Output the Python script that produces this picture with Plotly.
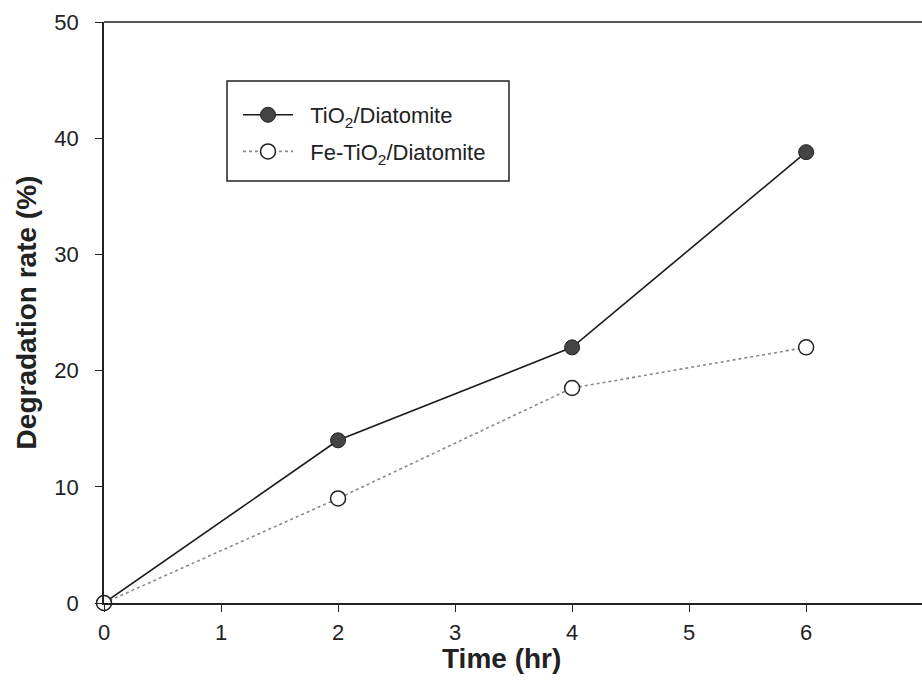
import plotly.graph_objects as go

time_hr = [0, 2, 4, 6]
tio2_diatomite = [0, 14, 22, 38.8]
fe_tio2_diatomite = [0, 9, 18.5, 22]
x_ticks = [0, 1, 2, 3, 4, 5, 6, 7]
y_ticks = [0, 10, 20, 30, 40, 50]

FONT = "Liberation Sans, Arial, sans-serif"
GAP = "\u00a0\u00a0"

fig = go.Figure()
fig.add_trace(go.Scatter(
    x=time_hr, y=tio2_diatomite, mode="lines+markers",
    name=GAP + "TiO<sub>2</sub>/Diatomite", legendgroup="a",
    line=dict(color="#1a1a1a", width=1.6),
    marker=dict(symbol="circle", size=15, color="#444444",
                line=dict(color="#222222", width=1)),
    cliponaxis=False,
))
fig.add_trace(go.Scatter(
    x=time_hr, y=fe_tio2_diatomite, mode="lines+markers",
    name=GAP + "Fe-TiO<sub>2</sub>/Diatomite", legendgroup="b",
    line=dict(color="#888888", width=1.6, dash="dot"),
    marker=dict(symbol="circle", size=15, color="white",
                line=dict(color="#222222", width=1.5)),
    cliponaxis=False,
))

# legend frame
fig.add_shape(type="rect", xref="paper", yref="paper",
              x0=(227 - 104) / 818, x1=(509 - 104) / 818,
              y0=(603 - 181) / 581, y1=(603 - 81) / 581,
              line=dict(color="#222222", width=1.5), fillcolor="rgba(0,0,0,0)")

# x-axis title (placed close to tick labels as in the reference)
fig.add_annotation(text="<b>Time (hr)</b>", xref="paper", yref="paper",
                   x=(501 - 104) / 818, y=(603 - 658) / 581,
                   xanchor="center", yanchor="middle", showarrow=False,
                   font=dict(family=FONT, size=28, color="#222222"))

fig.update_layout(
    width=922, height=686,
    margin=dict(l=104, r=0, t=22, b=83),
    paper_bgcolor="white", plot_bgcolor="white",
    font=dict(family=FONT, size=21, color="#222222"),
    showlegend=True,
    legend=dict(
        x=(238 - 104) / 818, y=(603 - 94) / 581,
        xanchor="left", yanchor="top",
        bgcolor="rgba(0,0,0,0)", borderwidth=0,
        font=dict(family=FONT, size=22, color="#222222"),
        tracegroupgap=5, itemwidth=50,
    ),
    xaxis=dict(
        range=[0, 6.99], tickvals=x_ticks, ticktext=[str(v) for v in x_ticks],
        showgrid=False, zeroline=False, showline=True, linecolor="#222222", linewidth=1.5,
        ticks="outside", ticklen=7, tickwidth=1, tickcolor="#222222",
        tickfont=dict(size=22), ticklabelstandoff=2,
    ),
    yaxis=dict(
        range=[0, 50], tickvals=y_ticks,
        showgrid=False, zeroline=False, showline=True, linecolor="#222222", linewidth=1.5,
        ticks="outside", ticklen=7, tickwidth=1, tickcolor="#222222",
        tickfont=dict(size=22), ticklabelstandoff=12,
        title=dict(text="<b>Degradation rate (%)</b>", font=dict(size=28), standoff=10),
    ),
)
# top frame line
fig.add_shape(type="line", xref="paper", yref="paper", x0=0, x1=1, y0=1, y1=1,
              line=dict(color="#222222", width=1.5))

fig.write_html("out.html", config={"displayModeBar": False})

with open("out.html", "r", encoding="utf-8") as f:
    html = f.read()
html = html.replace("<head>", "<head><style>html,body{margin:0;padding:0;overflow:hidden;}</style>", 1)
with open("out.html", "w", encoding="utf-8") as f:
    f.write(html)
